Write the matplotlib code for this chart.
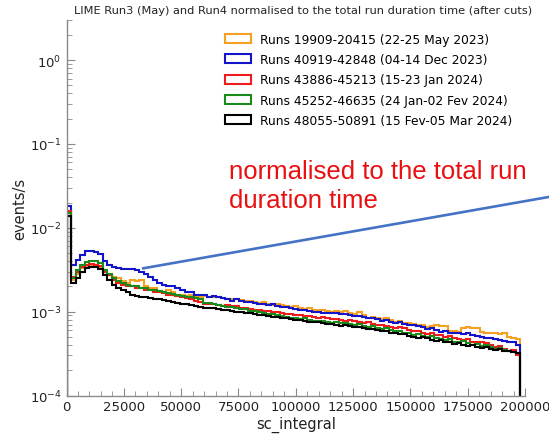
import numpy as np
import matplotlib
matplotlib.use("Agg")
import matplotlib.pyplot as plt
from matplotlib.ticker import MultipleLocator
from matplotlib.lines import Line2D

# data: events/s per bin of sc_integral
labels = ['Runs 19909-20415 (22-25 May 2023)',
          'Runs 40919-42848 (04-14 Dec 2023)',
          'Runs 43886-45213 (15-23 Jan 2024)',
          'Runs 45252-46635 (24 Jan-02 Fev 2024)',
          'Runs 48055-50891 (15 Fev-05 Mar 2024)']
colors = ['#f5a020', '#1414c8', '#ee1c1c', '#1a8a1a', 'black']

x_min = 0
x_max = 198000
n_bins = 100

may23 = [0.0160, 0.0024, 0.0028, 0.0033, 0.0035, 0.0036, 0.0035, 0.0034, 0.0030, 0.0027,
         0.0026, 0.0025, 0.0023, 0.0022, 0.0024, 0.0023, 0.0024, 0.0020, 0.0019, 0.0019,
         0.00176, 0.00172, 0.0018, 0.0017, 0.0016, 0.0016, 0.00155, 0.0016, 0.00155, 0.0015,
         0.00155, 0.0015, 0.0015, 0.00148, 0.00145, 0.0014, 0.00142, 0.0014, 0.00137, 0.00133,
         0.00135, 0.0013, 0.00128, 0.0013, 0.00125, 0.0012, 0.00122, 0.0012, 0.00117, 0.00114,
         0.00116, 0.00112, 0.00108, 0.0011, 0.00106, 0.00104, 0.00105, 0.00102, 0.00100, 0.00101,
         0.00098, 0.00102, 0.00097, 0.00093, 0.00100, 0.00092, 0.00084, 0.00086, 0.00085, 0.00082,
         0.00084, 0.00080, 0.00076, 0.00077, 0.00074, 0.00073, 0.00072, 0.00070, 0.00069, 0.00066,
         0.00068, 0.00069, 0.00068, 0.00067, 0.00059, 0.00058, 0.00057, 0.00064, 0.00065, 0.00064,
         0.00063, 0.00057, 0.00056, 0.00055, 0.00056, 0.00054, 0.00055, 0.00050, 0.00049, 0.00047]

dec23 = [0.0180, 0.0036, 0.0041, 0.0047, 0.0053, 0.0053, 0.0051, 0.0049, 0.0040, 0.0036,
         0.0034, 0.0033, 0.0032, 0.0032, 0.0032, 0.0031, 0.0030, 0.0028, 0.0026, 0.0024,
         0.0022, 0.0021, 0.0020, 0.0020, 0.0019, 0.0018, 0.0017, 0.0017, 0.0016, 0.0016,
         0.0016, 0.0015, 0.00155, 0.0015, 0.00145, 0.0014, 0.00135, 0.0014, 0.00135, 0.0013,
         0.0013, 0.00128, 0.00125, 0.00123, 0.0012, 0.00122, 0.00118, 0.00115, 0.00113, 0.0011,
         0.00108, 0.00106, 0.00104, 0.00102, 0.00100, 0.00099, 0.00097, 0.00095, 0.00096, 0.00095,
         0.00093, 0.00094, 0.00091, 0.00088, 0.00089, 0.00086, 0.00083, 0.00084, 0.00081, 0.00078,
         0.00080, 0.00076, 0.00074, 0.00075, 0.00071, 0.00069, 0.00070, 0.00067, 0.00065, 0.00062,
         0.00063, 0.00060, 0.00057, 0.00058, 0.00055, 0.00055, 0.00056, 0.00054, 0.00055, 0.00053,
         0.00051, 0.00050, 0.00048, 0.00049, 0.00047, 0.00046, 0.00045, 0.00044, 0.00043, 0.00040]

jan24 = [0.0160, 0.0026, 0.0030, 0.0034, 0.0036, 0.0037, 0.0036, 0.0035, 0.0030, 0.0027,
         0.0024, 0.0022, 0.0021, 0.0020, 0.0020, 0.0019, 0.0019, 0.0018, 0.0018, 0.0017,
         0.0017, 0.00165, 0.0016, 0.0016, 0.00155, 0.0015, 0.00145, 0.0014, 0.00135, 0.0013,
         0.00125, 0.00123, 0.00125, 0.0012, 0.00118, 0.0012, 0.00118, 0.00116, 0.00112, 0.0011,
         0.00108, 0.00106, 0.00104, 0.00102, 0.00103, 0.00100, 0.00098, 0.00095, 0.00094, 0.00093,
         0.00090, 0.00091, 0.00088, 0.00089, 0.00086, 0.00085, 0.00086, 0.00083, 0.00081, 0.00082,
         0.00080, 0.00078, 0.00080, 0.00077, 0.00075, 0.00073, 0.00075, 0.00071, 0.00069, 0.00070,
         0.00067, 0.00066, 0.00064, 0.00065, 0.00063, 0.00060, 0.00058, 0.00059, 0.00056, 0.00054,
         0.00056, 0.00053, 0.00052, 0.00050, 0.00051, 0.00048, 0.00047, 0.00046, 0.00047, 0.00044,
         0.00043, 0.00044, 0.00042, 0.00040, 0.00038, 0.00039, 0.00036, 0.00034, 0.00035, 0.00030]

jan_feb24 = [0.0150, 0.0025, 0.0031, 0.0036, 0.0039, 0.0040, 0.0040, 0.0038, 0.0031, 0.0028,
             0.0025, 0.0023, 0.0022, 0.0021, 0.0020, 0.0020, 0.0019, 0.0019, 0.0018, 0.0018,
             0.00176, 0.0017, 0.00168, 0.00163, 0.0016, 0.00155, 0.0015, 0.00148, 0.00145, 0.0014,
             0.00128, 0.00126, 0.00122, 0.0012, 0.00117, 0.00113, 0.00114, 0.0011, 0.00107, 0.00108,
             0.00103, 0.00101, 0.00098, 0.00096, 0.00093, 0.00094, 0.00091, 0.00089, 0.00087, 0.00085,
             0.00084, 0.00082, 0.00083, 0.00080, 0.00078, 0.00077, 0.00078, 0.00076, 0.00074, 0.00075,
             0.00073, 0.00074, 0.00072, 0.00070, 0.00071, 0.00068, 0.00066, 0.00067, 0.00064, 0.00062,
             0.00063, 0.00060, 0.00058, 0.00059, 0.00056, 0.00055, 0.00053, 0.00054, 0.00051, 0.00050,
             0.00051, 0.00048, 0.00047, 0.00046, 0.00047, 0.00044, 0.00043, 0.00045, 0.00042, 0.00040,
             0.00041, 0.00039, 0.00040, 0.00038, 0.00036, 0.00037, 0.00035, 0.00034, 0.00033, 0.00032]

feb_mar24 = [0.0140, 0.0022, 0.0025, 0.0030, 0.0033, 0.0034, 0.0034, 0.0032, 0.0027, 0.0024,
             0.0021, 0.0019, 0.0018, 0.0017, 0.0016, 0.00155, 0.0015, 0.00148, 0.00145, 0.0014,
             0.0014, 0.00137, 0.00133, 0.0013, 0.00128, 0.00125, 0.00122, 0.0012, 0.00117, 0.00113,
             0.00112, 0.00110, 0.00109, 0.00107, 0.00105, 0.00104, 0.00102, 0.00100, 0.00098, 0.00097,
             0.00095, 0.00093, 0.00092, 0.00090, 0.00089, 0.00087, 0.00086, 0.00084, 0.00083, 0.00081,
             0.00080, 0.00079, 0.00077, 0.00076, 0.00075, 0.00075, 0.00073, 0.00072, 0.00071, 0.00070,
             0.00068, 0.00069, 0.00067, 0.00065, 0.00066, 0.00063, 0.00062, 0.00062, 0.00060, 0.00058,
             0.00059, 0.00056, 0.00055, 0.00054, 0.00054, 0.00051, 0.00050, 0.00049, 0.00050, 0.00048,
             0.00046, 0.00045, 0.00046, 0.00044, 0.00043, 0.00041, 0.00042, 0.00040, 0.00039, 0.00040,
             0.00038, 0.00037, 0.00038, 0.00036, 0.00035, 0.00036, 0.00034, 0.00034, 0.00033, 0.00032]

series = [may23, dec23, jan24, jan_feb24, feb_mar24]

edges = np.linspace(x_min, x_max, n_bins + 1)
centers = 0.5 * (edges[:-1] + edges[1:])

fig = plt.figure(figsize=(5.49, 4.35), dpi=100)
ax = fig.add_axes([66.5 / 549, 38.5 / 435, 458.5 / 549, 375.5 / 435])

for vals, c, lab in zip(series, colors, labels):
    ax.hist(centers, bins=edges, weights=vals, histtype='step',
            color=c, lw=1.5, label=lab, log=True)

ax.set_yscale('log')
ax.set_xlim(0, 200000)
ax.set_ylim(1e-4, 3)

ax.xaxis.set_major_locator(MultipleLocator(25000))
ax.xaxis.set_minor_locator(MultipleLocator(5000))

for s in ['top', 'right']:
    ax.spines[s].set_visible(False)
for s in ['left', 'bottom']:
    ax.spines[s].set_color('#8a8a8a')
    ax.spines[s].set_linewidth(1.0)

ax.tick_params(which='both', direction='in', colors='#8a8a8a',
               labelcolor='#222222', top=False, right=False)
ax.tick_params(which='major', length=6, labelsize=9.5)
ax.tick_params(which='minor', length=3.5)

ax.set_xlabel('sc_integral', fontsize=10.5, color='#222222', labelpad=2)
ax.set_ylabel('events/s', fontsize=10.5, color='#222222', labelpad=2)
ax.set_title('LIME Run3 (May) and Run4 normalised to the total run duration time (after cuts)',
             fontsize=8.2, color='#222222', pad=5, x=0.517)

ax.legend(loc='upper left', bbox_to_anchor=(0.3457, 0.966), frameon=False,
          fontsize=8.8, borderaxespad=0, borderpad=0, handlelength=2.1,
          handleheight=0.75, handletextpad=0.75, labelspacing=0.6)

# annotation
fig.text(229 / 549, 1 - 208.5 / 435, 'normalised to the total run\nduration time',
         color='#e81010', fontsize=18.5, family='Liberation Sans',
         va='baseline', ha='left', linespacing=1.3)
fig.add_artist(Line2D([143.3 / 549, 1.02], [1 - 269.3 / 435, 1 - 196 / 435],
                      color='#4472c4', lw=1.9, transform=fig.transFigure))

fig.savefig('out.png', dpi=100)
